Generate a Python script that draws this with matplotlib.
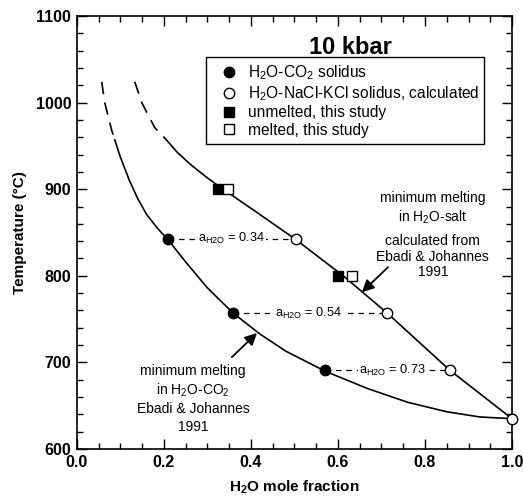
import numpy as np
import matplotlib
matplotlib.use('Agg')
import matplotlib.pyplot as plt
from matplotlib.lines import Line2D
from matplotlib.ticker import MultipleLocator

plt.rcParams['font.family'] = ['Liberation Sans', 'DejaVu Sans']
plt.rcParams['mathtext.fontset'] = 'custom'
plt.rcParams['mathtext.rm'] = 'Liberation Sans'
plt.rcParams['mathtext.bf'] = 'Liberation Sans:bold'
plt.rcParams['lines.scale_dashes'] = False

# H2O-CO2 solidus (Ebadi & Johannes 1991)
co2_dash_x = [0.057, 0.064, 0.080, 0.087]
co2_dash_T = [1024, 1000, 968, 957]
co2_x = [0.087, 0.10, 0.12, 0.14, 0.16, 0.185, 0.209, 0.25, 0.30, 0.359, 0.42, 0.48, 0.57, 0.667, 0.76, 0.85, 0.926, 1.0]
co2_T = [957, 937, 911, 889, 871, 855, 842, 816, 786, 757, 733, 713, 690, 670, 654, 643, 637, 635]

# H2O-salt solidus, calculated
salt_dash_x = [0.133, 0.149, 0.179, 0.202]
salt_dash_T = [1024, 1000, 971, 959]
salt_x = [0.202, 0.23, 0.26, 0.30, 0.336, 0.42, 0.50, 0.612, 0.713, 0.857, 1.0]
salt_T = [959, 943, 929, 913, 900, 871, 843, 800, 757, 691, 635]

# points
co2_pts_x = [0.209, 0.359, 0.570]
co2_pts_T = [843, 757, 691]
salt_pts_x = [0.503, 0.713, 0.857, 1.0]
salt_pts_T = [843, 757, 691, 635]
unmelted_x = [0.324, 0.600]
unmelted_T = [900, 800]
melted_x = [0.347, 0.632]
melted_T = [900, 800]

activities = ['0.34', '0.54', '0.73']
act_label_x = [0.354, 0.533, 0.725]

fig = plt.figure(figsize=(5.23, 5.0), dpi=100)
ax = fig.add_axes([0.147, 0.102, 0.832, 0.866])

ax.plot(co2_x, co2_T, color='k', lw=1.2)
ax.plot(co2_dash_x, co2_dash_T, color='k', lw=1.2, dashes=(9, 6))
ax.plot(salt_x, salt_T, color='k', lw=1.2)
ax.plot(salt_dash_x, salt_dash_T, color='k', lw=1.2, dashes=(9, 6))

# activity tie lines
for i in range(3):
    ax.plot([co2_pts_x[i], salt_pts_x[i]], [co2_pts_T[i], co2_pts_T[i]],
            color='k', lw=0.9, dashes=(4, 3.5))
    ax.text(act_label_x[i], co2_pts_T[i], r'a$_{\mathrm{H2O}}$ = ' + activities[i],
            ha='center', va='center', fontsize=9.2,
            bbox=dict(facecolor='white', edgecolor='none', pad=1.0))

ms = 7.5
ax.plot(co2_pts_x, co2_pts_T, 'o', color='k', ms=ms, clip_on=False, zorder=5)
ax.plot(salt_pts_x, salt_pts_T, 'o', mfc='white', mec='k', mew=1.0, ms=ms, clip_on=False, zorder=5)
ax.plot(unmelted_x, unmelted_T, 's', color='k', ms=ms, zorder=5)
ax.plot(melted_x, melted_T, 's', mfc='white', mec='k', mew=1.0, ms=ms, zorder=5)

ax.text(0.628, 1064, '10 kbar', fontsize=17, fontweight='bold', ha='center', va='center')

handles = [
    Line2D([], [], ls='none', marker='o', color='k', ms=ms),
    Line2D([], [], ls='none', marker='o', mfc='white', mec='k', mew=1.0, ms=ms),
    Line2D([], [], ls='none', marker='s', color='k', ms=ms),
    Line2D([], [], ls='none', marker='s', mfc='white', mec='k', mew=1.0, ms=ms),
]
labels = [r'H$_2$O-CO$_2$ solidus', r'H$_2$O-NaCl-KCl solidus, calculated',
          'unmelted, this study', 'melted, this study']
leg = ax.legend(handles, labels, loc='upper left', bbox_to_anchor=(0.297, 0.905, 0.639, 0.0),
                mode='expand', borderaxespad=0, fontsize=11.2, frameon=True, fancybox=False,
                edgecolor='k', framealpha=1, labelspacing=0.15, handletextpad=0.1,
                borderpad=0.4, handlelength=2.2)
leg.get_frame().set_linewidth(1.0)

ax.text(0.818, 878, 'minimum melting\nin H$_2$O-salt', ha='center', va='center',
        fontsize=10, linespacing=1.3)
ax.text(0.818, 822, 'calculated from\nEbadi & Johannes\n1991', ha='center', va='center',
        fontsize=10, linespacing=1.15)
ax.annotate('', xy=(0.655, 781), xytext=(0.715, 810),
            arrowprops=dict(arrowstyle='-|>', color='k', lw=1.3, mutation_scale=18,
                            shrinkA=0, shrinkB=0))

ax.text(0.267, 658, 'minimum melting\nin H$_2$O-CO$_2$\nEbadi & Johannes\n1991', ha='center',
        va='center', fontsize=10, linespacing=1.3)
ax.annotate('', xy=(0.414, 734), xytext=(0.356, 706),
            arrowprops=dict(arrowstyle='-|>', color='k', lw=1.3, mutation_scale=18,
                            shrinkA=0, shrinkB=0))

ax.set_xlim(0, 1.0)
ax.set_ylim(600, 1100)
ax.xaxis.set_major_locator(MultipleLocator(0.2))
ax.xaxis.set_minor_locator(MultipleLocator(0.05))
ax.yaxis.set_major_locator(MultipleLocator(100))
ax.yaxis.set_minor_locator(MultipleLocator(20))
ax.xaxis.set_major_formatter(plt.FormatStrFormatter('%.1f'))
ax.tick_params(which='both', direction='in', top=True, right=True, width=1.0)
ax.tick_params(which='major', length=7, labelsize=11.5, pad=4)
ax.tick_params(which='minor', length=4)
for lab in ax.get_xticklabels() + ax.get_yticklabels():
    lab.set_fontweight('bold')
for sp in ax.spines.values():
    sp.set_linewidth(1.2)

ax.set_xlabel(r'H$_{\mathbf{2}}$O mole fraction', fontsize=11, fontweight='bold', labelpad=6)
ax.set_ylabel('Temperature (°C)', fontsize=11, fontweight='bold', labelpad=6)

fig.savefig('out.png', dpi=100)
